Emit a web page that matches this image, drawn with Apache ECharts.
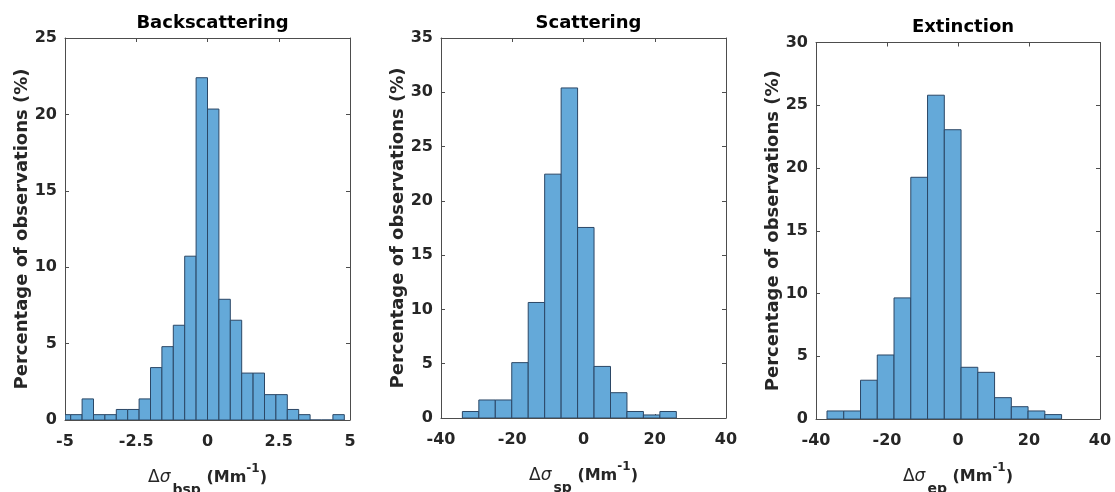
<!DOCTYPE html>
<html>
<head>
<meta charset="utf-8">
<script src="https://cdn.jsdelivr.net/npm/echarts@6/dist/echarts.min.js"></script>
<style>
html,body{margin:0;padding:0;background:#fff;}
#c{width:1115px;height:492px;}
</style>
</head>
<body>
<div id="c"></div>
<script>
// ---- data ----
const titles = ['Backscattering', 'Scattering', 'Extinction'];
const subscripts = ['bsp', 'sp', 'ep'];
const yLabel = 'Percentage of observations (%)';

const bspEdges = [-5.2,-4.8,-4.4,-4.0,-3.6,-3.2,-2.8,-2.4,-2.0,-1.6,-1.2,-0.8,-0.4,0,0.4,0.8,1.2,1.6,2.0,2.4,2.8,3.2,3.6,4.0,4.4,4.8];
const bspPct   = [0.35,0.35,1.38,0.35,0.35,0.69,0.69,1.38,3.43,4.8,6.2,10.72,22.4,20.35,7.9,6.53,3.07,3.07,1.66,1.66,0.69,0.35,0,0,0.35];

const spEdges = [-34.0,-29.38,-24.76,-20.14,-15.52,-10.9,-6.28,-1.66,2.96,7.58,12.2,16.82,21.44,26.06];
const spPct   = [0.6,1.66,1.66,5.1,10.64,22.46,30.4,17.55,4.75,2.33,0.6,0.28,0.6];

const epEdges = [-36.9,-32.18,-27.46,-22.74,-18.02,-13.3,-8.58,-3.86,0.86,5.58,10.3,15.02,19.74,24.46,29.18];
const epPct   = [0.64,0.64,3.09,5.1,9.65,19.26,25.8,23.05,4.12,3.72,1.7,0.98,0.64,0.35];

const xTicks1 = [-5, -2.5, 0, 2.5, 5];
const xTicks2 = [-40, -20, 0, 20, 40];
const xTicks3 = [-40, -20, 0, 20, 40];
const yTicks1 = [0, 5, 10, 15, 20, 25];
const yTicks2 = [0, 5, 10, 15, 20, 25, 30, 35];
const yTicks3 = [0, 5, 10, 15, 20, 25, 30];

// ---- layout ----
const grids = [
  {left: 65,  top: 38,   width: 285, height: 382},
  {left: 441, top: 38,   width: 285, height: 380},
  {left: 816, top: 42.5, width: 284, height: 376.5}
];
const panels = [
  {edges: bspEdges, pct: bspPct, xt: xTicks1, yt: yTicks1},
  {edges: spEdges,  pct: spPct,  xt: xTicks2, yt: yTicks2},
  {edges: epEdges,  pct: epPct,  xt: xTicks3, yt: yTicks3}
];

const FONT = 'DejaVu Sans';
const TXT = '#262626';
const AX = '#4d4d4d';

function binsData(edges, pct) {
  return pct.map((v, i) => [edges[i], edges[i + 1], v]);
}

const option = {
  backgroundColor: '#ffffff',
  animation: false,
  title: [],
  grid: [],
  xAxis: [],
  yAxis: [],
  series: []
};

panels.forEach((p, k) => {
  const g = grids[k];
  option.grid.push(Object.assign({containLabel: false, outerBoundsMode: 'none'}, g));
  option.title.push({
    text: titles[k],
    left: g.left + g.width / 2,
    textAlign: 'center',
    top: g.top - 29,
    textStyle: {fontFamily: FONT, fontWeight: 'bold', fontSize: 18, color: '#000'}
  });
  const xmin = p.xt[0], xmax = p.xt[p.xt.length - 1], xint = p.xt[1] - p.xt[0];
  const ymin = p.yt[0], ymax = p.yt[p.yt.length - 1], yint = p.yt[1] - p.yt[0];
  const sub = subscripts[k];
  // bottom x
  option.xAxis.push({
    type: 'value', gridIndex: k, position: 'bottom', min: xmin, max: xmax, interval: xint,
    splitLine: {show: false},
    axisLine: {show: true, onZero: false, lineStyle: {color: AX, width: 1}},
    axisTick: {show: true, inside: true, length: 4, lineStyle: {color: AX}},
    axisLabel: {margin: 14, fontFamily: FONT, fontWeight: 'bold', fontSize: 16, color: TXT},
    name: '{d|Δ}{s|σ}{sub|' + sub + '}{m| (Mm}{sup|-1}{m|)}',
    nameLocation: 'middle', nameGap: 39,
    nameTextStyle: {
      rich: {
        d: {fontFamily: FONT, fontSize: 17, color: TXT},
        s: {fontFamily: FONT, fontStyle: 'italic', fontSize: 17, color: TXT},
        sub: {fontFamily: FONT, fontWeight: 'bold', fontSize: 14, color: TXT, padding: [24, 0, 0, 2]},
        m: {fontFamily: FONT, fontWeight: 'bold', fontSize: 16, color: TXT},
        sup: {fontFamily: FONT, fontWeight: 'bold', fontSize: 12, color: TXT, padding: [0, 0, 19, 0]}
      }
    }
  });
  // top x (box)
  option.xAxis.push({
    type: 'value', gridIndex: k, position: 'top', min: xmin, max: xmax, interval: xint,
    splitLine: {show: false},
    axisLine: {show: true, onZero: false, lineStyle: {color: AX, width: 1}},
    axisTick: {show: true, inside: true, length: 4, lineStyle: {color: AX}},
    axisLabel: {show: false}
  });
  // left y
  option.yAxis.push({
    type: 'value', gridIndex: k, position: 'left', min: ymin, max: ymax, interval: yint,
    splitLine: {show: false},
    axisLine: {show: true, onZero: false, lineStyle: {color: AX, width: 1}},
    axisTick: {show: true, inside: true, length: 4, lineStyle: {color: AX}},
    axisLabel: {margin: 8, fontFamily: FONT, fontWeight: 'bold', fontSize: 16, color: TXT},
    name: yLabel, nameLocation: 'middle', nameGap: 27,
    nameTextStyle: {fontFamily: FONT, fontWeight: 'bold', fontSize: 18, color: TXT}
  });
  // right y (box)
  option.yAxis.push({
    type: 'value', gridIndex: k, position: 'right', min: ymin, max: ymax, interval: yint,
    splitLine: {show: false},
    axisLine: {show: true, onZero: false, lineStyle: {color: AX, width: 1}},
    axisTick: {show: true, inside: true, length: 4, lineStyle: {color: AX}},
    axisLabel: {show: false}
  });
  option.series.push({
    type: 'custom',
    xAxisIndex: 2 * k, yAxisIndex: 2 * k,
    clip: true,
    data: binsData(p.edges, p.pct),
    encode: {x: [0, 1], y: 2},
    renderItem: function (params, api) {
      const a = api.coord([api.value(0), api.value(2)]);
      const b = api.coord([api.value(1), 0]);
      const shape = echarts.graphic.clipRectByRect({
        x: a[0], y: a[1], width: b[0] - a[0], height: b[1] - a[1]
      }, {
        x: params.coordSys.x, y: params.coordSys.y,
        width: params.coordSys.width, height: params.coordSys.height
      });
      return shape && {
        type: 'rect', shape: shape,
        style: {fill: '#64a9d9', stroke: '#2b4766', lineWidth: 1}
      };
    }
  });
});

const chart = echarts.init(document.getElementById('c'), null, {renderer: 'canvas'});
chart.setOption(option);
</script>
</body>
</html>
